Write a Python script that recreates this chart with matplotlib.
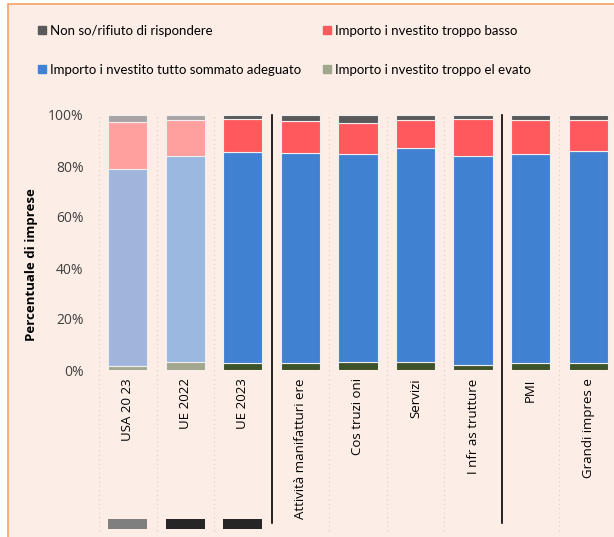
import matplotlib
matplotlib.use("Agg")
import matplotlib.pyplot as plt
from matplotlib.patches import Patch, Rectangle
import numpy as np

categories = ["USA 20 23", "UE 2022", "UE 2023", "Attività manifatturi ere",
              "Cos truzi oni", "Servizi", "I nfr as trutture", "PMI", "Grandi impres e"]
troppo_elevato = [1.7, 3.0, 2.6, 2.6, 3.0, 3.1, 1.8, 2.7, 2.6]
adeguato = [77.1, 80.8, 82.9, 82.4, 81.7, 84.0, 82.3, 82.0, 83.1]
troppo_basso = [18.6, 14.2, 12.9, 12.5, 12.2, 11.1, 14.5, 13.3, 12.3]
non_so = [2.6, 2.0, 1.6, 2.5, 3.1, 1.8, 1.4, 2.0, 2.0]
marker_colors = ["#7F7F7F", "#262626", "#262626"]  # bars under the first three groups

legend_labels = ["Non so/rifiuto di rispondere", "Importo i nvestito tutto sommato adeguato",
                 "Importo i nvestito troppo basso", "Importo i nvestito troppo el evato"]

BG = "#FCEEE6"
ORANGE = "#F4A263"

col_elev = ["#A0A78E", "#A0A78E"] + ["#3D5228"] * 7
col_adeg = ["#9FB5DB", "#9AB8E0"] + ["#4181D1"] * 7
col_basso = ["#FFA09F", "#FFA09F"] + ["#FF595E"] * 7
col_nonso = ["#A9A4A3", "#A9A4A3"] + ["#595959"] * 7

fig = plt.figure(figsize=(6.14, 5.37), dpi=100)
fig.patch.set_facecolor("white")
fig.patches.append(Rectangle((8 / 614, -0.01), 1.0, 1 - 4 / 537 + 0.01, transform=fig.transFigure,
                             facecolor=BG, edgecolor=ORANGE, linewidth=1.2, zorder=-10))

ax = fig.add_axes([99 / 614, 167 / 537, 1 - 99 / 614, 255 / 537])
ax.set_facecolor("none")

x = np.arange(len(categories))
w = 0.68
kw = dict(width=w, edgecolor="#EEEEEE", linewidth=0.8, zorder=3)
b1 = np.array(troppo_elevato)
b2 = b1 + np.array(adeguato)
b3 = b2 + np.array(troppo_basso)
ax.bar(x, troppo_elevato, color=col_elev, **kw)
ax.bar(x, adeguato, bottom=b1, color=col_adeg, **kw)
ax.bar(x, troppo_basso, bottom=b2, color=col_basso, **kw)
ax.bar(x, non_so, bottom=b3, color=col_nonso, **kw)

# small rectangles below the first three groups
ax.bar(x[:3], [4] * 3, bottom=-62.4, width=w, color=marker_colors, clip_on=False, zorder=3)

# dotted separators and group dividers
for xv in np.arange(-0.5, len(categories), 1.0):
    if xv in (2.5, 6.5):
        ax.axvline(xv, ymin=-0.60, ymax=1.0, color="black", lw=1.2, clip_on=False, zorder=4)
    else:
        ax.axvline(xv, ymin=-0.63, ymax=1.0, color="#D9D0CA", lw=0.8, ls=(0, (1, 3)),
                   clip_on=False, zorder=1)

ax.set_xlim(-0.5, 8.45)
ax.set_ylim(0, 100)
ax.set_yticks([0, 20, 40, 60, 80, 100])
ax.set_yticklabels([f"{v}%" for v in [0, 20, 40, 60, 80, 100]], fontsize=10,
                   family="Open Sans", color="#404040")
ax.set_xticks(x)
ax.set_xticklabels(categories, rotation=90, fontsize=9.5, family="Open Sans", va="top")
ax.tick_params(length=0, axis="y", pad=11)
ax.tick_params(length=0, axis="x", pad=6)
for s in ax.spines.values():
    s.set_visible(False)

fig.text(32 / 614, 1 - 265 / 537, "Percentuale di imprese", rotation=90, ha="center",
         va="center", fontsize=9.5, fontweight="bold", family="Open Sans")

handles = [Patch(color="#595959"), Patch(color="#4181D1"),
           Patch(color="#FF595E"), Patch(color="#A0A78E")]
fig.legend(handles, legend_labels, ncol=2, loc="upper left", bbox_to_anchor=(26 / 614, 1 - 13 / 537),
           frameon=False, prop={"family": "Lato", "size": 9.5}, handlelength=0.6, handleheight=0.6,
           handletextpad=0.3, labelspacing=2.05, columnspacing=1.7)

fig.savefig("out.png", dpi=100, facecolor=fig.get_facecolor())
